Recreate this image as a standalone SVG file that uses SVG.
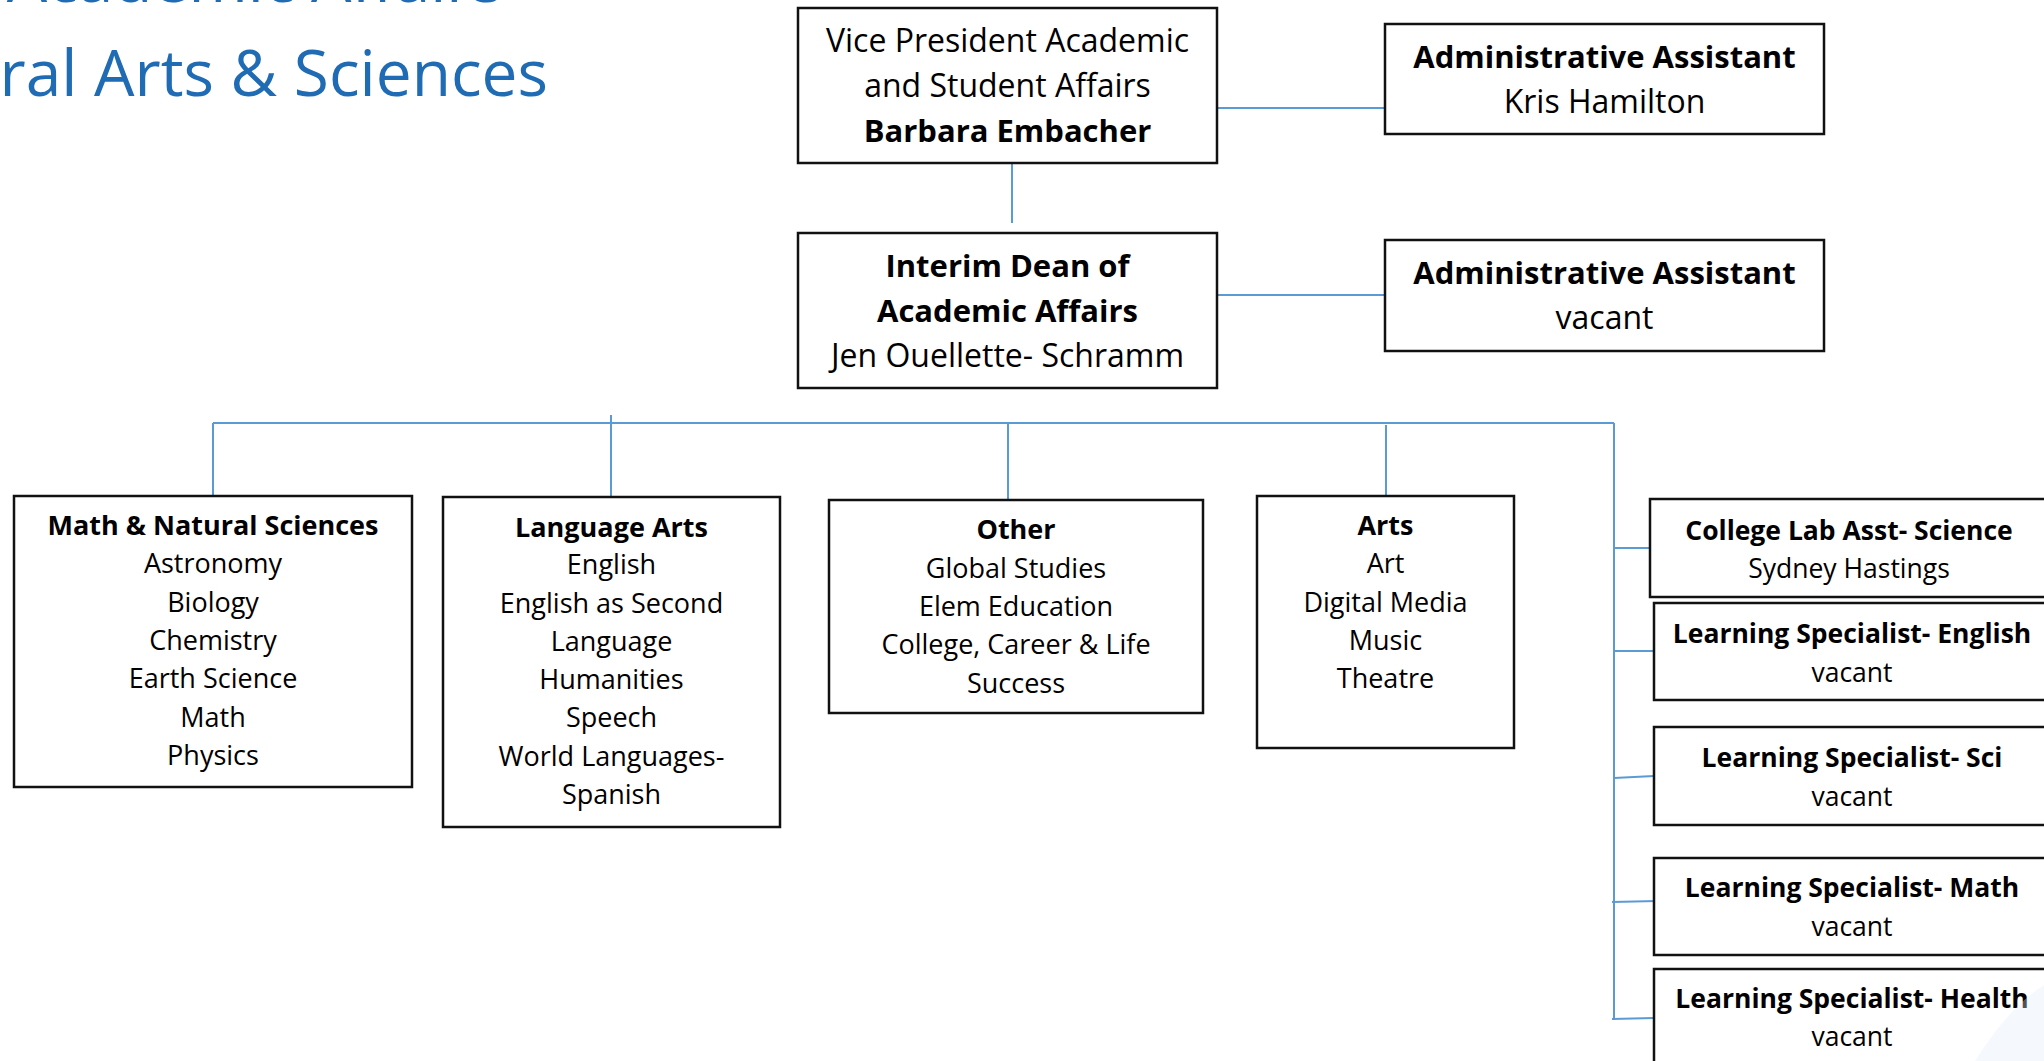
<svg xmlns="http://www.w3.org/2000/svg" width="2044" height="1061" viewBox="0 0 2044 1061">
  <style>
    .box { fill: #ffffff; stroke: #111111; stroke-width: 2.5; }
    .conn { stroke: #5B9BD5; stroke-width: 2; fill: none; }
    text { font-family: "Open Sans", "Liberation Sans", sans-serif; fill: #000000; text-anchor: middle; }
    .top { font-size: 32px; }
    .topb { font-size: 31px; font-weight: bold; }
    .mid { font-size: 27px; }
    .midb { font-size: 27px; font-weight: bold; }
    .rt { font-size: 26.5px; }
    .rtb { font-size: 26.5px; font-weight: bold; }
    .title { font-size: 64px; fill: #1F6BB4; text-anchor: end; }
  </style>
  <rect width="2044" height="1061" fill="#ffffff"/>

  <g id="title">
    <text class="title" x="503" y="2">Academic Affairs</text>
    <text class="title" x="548" y="96">Liberal Arts &amp; Sciences</text>
  </g>

  <g id="connectors">
    <line class="conn" x1="1217" y1="108" x2="1385" y2="108"/>
    <line class="conn" x1="1012" y1="163" x2="1012" y2="223"/>
    <line class="conn" x1="1217" y1="295" x2="1385" y2="295"/>
    <line class="conn" x1="213" y1="423" x2="1614" y2="423"/>
    <line class="conn" x1="213" y1="423" x2="213" y2="496"/>
    <line class="conn" x1="611" y1="415" x2="611" y2="497"/>
    <line class="conn" x1="1008" y1="423" x2="1008" y2="499"/>
    <line class="conn" x1="1386" y1="425" x2="1386" y2="496"/>
    <line class="conn" x1="1614" y1="423" x2="1614" y2="1020"/>
    <line class="conn" x1="1614" y1="548" x2="1650" y2="548"/>
    <line class="conn" x1="1614" y1="651" x2="1654" y2="651"/>
    <line class="conn" x1="1614" y1="778" x2="1654" y2="776"/>
    <line class="conn" x1="1612" y1="902" x2="1657" y2="901"/>
    <line class="conn" x1="1612" y1="1019" x2="1654" y2="1018"/>
  </g>

  <g id="vp">
    <rect class="box" x="798" y="8" width="419" height="155"/>
    <text class="top" x="1007.5" y="52">Vice President Academic</text>
    <text class="top" x="1007.5" y="97">and Student Affairs</text>
    <text class="topb" x="1007.5" y="142">Barbara Embacher</text>
  </g>

  <g id="admin1">
    <rect class="box" x="1385" y="24" width="439" height="110"/>
    <text class="topb" x="1604.5" y="68">Administrative Assistant</text>
    <text class="top" x="1604.5" y="113">Kris Hamilton</text>
  </g>

  <g id="dean">
    <rect class="box" x="798" y="233" width="419" height="155"/>
    <text class="topb" x="1007.5" y="277">Interim Dean of</text>
    <text class="topb" x="1007.5" y="322">Academic Affairs</text>
    <text class="top" x="1007.5" y="367">Jen Ouellette- Schramm</text>
  </g>

  <g id="admin2">
    <rect class="box" x="1385" y="240" width="439" height="111"/>
    <text class="topb" x="1604.5" y="284">Administrative Assistant</text>
    <text class="top" x="1604.5" y="329">vacant</text>
  </g>

  <g id="math">
    <rect class="box" x="14" y="496" width="398" height="291"/>
    <text class="midb" x="213" y="535">Math &amp; Natural Sciences</text>
    <text class="mid" x="213" y="573">Astronomy</text>
    <text class="mid" x="213" y="612">Biology</text>
    <text class="mid" x="213" y="650">Chemistry</text>
    <text class="mid" x="213" y="688">Earth Science</text>
    <text class="mid" x="213" y="727">Math</text>
    <text class="mid" x="213" y="765">Physics</text>
  </g>

  <g id="language-arts">
    <rect class="box" x="443" y="497" width="337" height="330"/>
    <text class="midb" x="611.5" y="537">Language Arts</text>
    <text class="mid" x="611.5" y="574">English</text>
    <text class="mid" x="611.5" y="613">English as Second</text>
    <text class="mid" x="611.5" y="651">Language</text>
    <text class="mid" x="611.5" y="689">Humanities</text>
    <text class="mid" x="611.5" y="727">Speech</text>
    <text class="mid" x="611.5" y="766">World Languages-</text>
    <text class="mid" x="611.5" y="804">Spanish</text>
  </g>

  <g id="other">
    <rect class="box" x="829" y="500" width="374" height="213"/>
    <text class="midb" x="1016" y="539">Other</text>
    <text class="mid" x="1016" y="578">Global Studies</text>
    <text class="mid" x="1016" y="616">Elem Education</text>
    <text class="mid" x="1016" y="654">College, Career &amp; Life</text>
    <text class="mid" x="1016" y="693">Success</text>
  </g>

  <g id="arts">
    <rect class="box" x="1257" y="496" width="257" height="252"/>
    <text class="midb" x="1385.5" y="535">Arts</text>
    <text class="mid" x="1385.5" y="573">Art</text>
    <text class="mid" x="1385.5" y="612">Digital Media</text>
    <text class="mid" x="1385.5" y="650">Music</text>
    <text class="mid" x="1385.5" y="688">Theatre</text>
  </g>

  <g id="lab-asst">
    <rect class="box" x="1650" y="499" width="400" height="98"/>
    <text class="rtb" x="1849" y="540">College Lab Asst- Science</text>
    <text class="rt" x="1849" y="578">Sydney Hastings</text>
  </g>

  <g id="ls-english">
    <rect class="box" x="1654" y="603" width="396" height="97"/>
    <text class="rtb" x="1852" y="643">Learning Specialist- English</text>
    <text class="rt" x="1852" y="682">vacant</text>
  </g>

  <g id="ls-sci">
    <rect class="box" x="1654" y="727" width="396" height="98"/>
    <text class="rtb" x="1852" y="767">Learning Specialist- Sci</text>
    <text class="rt" x="1852" y="806">vacant</text>
  </g>

  <g id="ls-math">
    <rect class="box" x="1654" y="858" width="396" height="97"/>
    <text class="rtb" x="1852" y="897">Learning Specialist- Math</text>
    <text class="rt" x="1852" y="936">vacant</text>
  </g>

  <g id="ls-health">
    <rect class="box" x="1654" y="969" width="396" height="100"/>
    <text class="rtb" x="1852" y="1008">Learning Specialist- Health</text>
    <text class="rt" x="1852" y="1046">vacant</text>
  </g>

  <path d="M1975,1061 Q2008,1008 2044,985 L2044,1061 Z" fill="#E3EDF8" opacity="0.35"/>
</svg>
